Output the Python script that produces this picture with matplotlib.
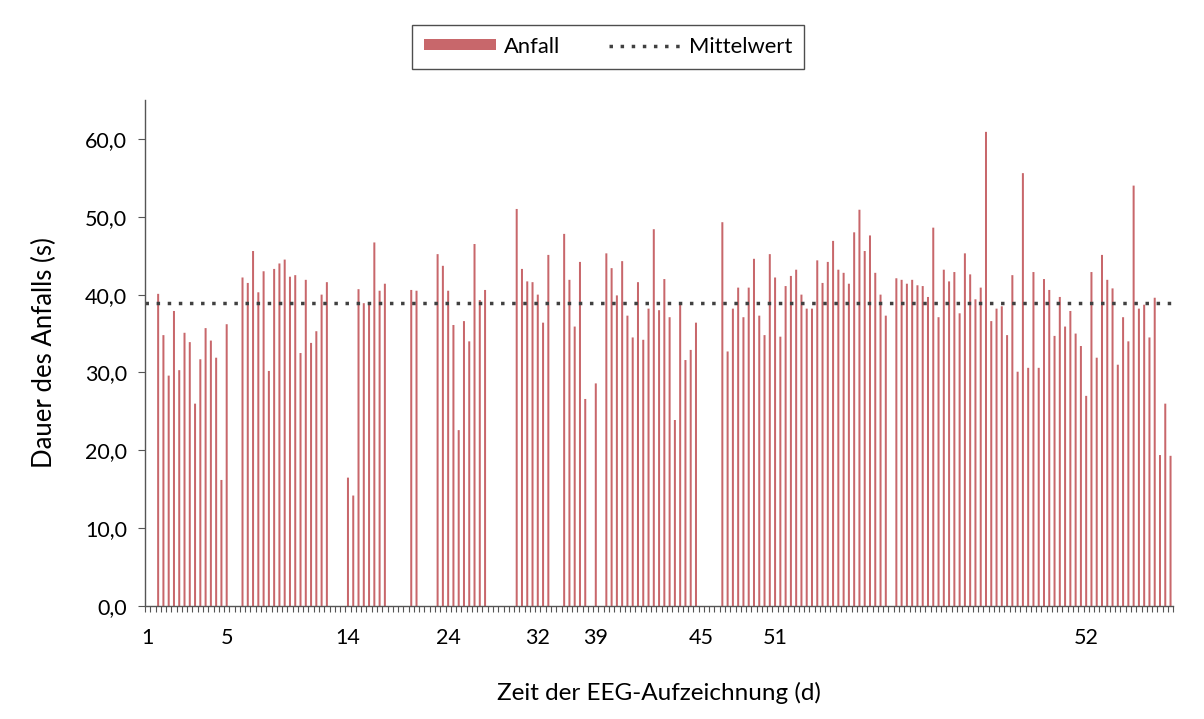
import numpy as np
import matplotlib
matplotlib.use("Agg")
import matplotlib.pyplot as plt
from matplotlib.patches import Patch
from matplotlib.lines import Line2D

plt.rcParams['font.family'] = ['Lato', 'DejaVu Sans']

# Dauer jedes Anfalls (s); nan = leere Kategorie
nan = np.nan
dauer = [
    nan, nan,
    40.1, 34.8, 29.6, 37.9, 30.3, 35.1, 33.9, 26.0, 31.7, 35.7, 34.1, 31.9, 16.2, 36.2,
    nan, nan,
    42.2, 41.5, 45.6, 40.3, 43.0, 30.2, 43.3, 44.0, 44.5, 42.3, 42.5, 32.5, 41.9, 33.8, 35.3, 40.0, 41.6,
    nan, nan, nan,
    16.5, 14.2, 40.7, 38.9, 38.9, 46.7, 40.5, 41.4,
    nan, nan, nan, nan,
    40.6, 40.5,
    nan, nan, nan,
    45.2, 43.7, 40.5, 36.1, 22.6, 36.6, 34.0, 46.5, 39.3, 40.6,
    nan, nan, nan, nan, nan,
    51.0, 43.3, 41.7, 41.6, 40.0, 36.4, 45.1,
    nan, nan,
    47.8, 41.9, 35.9, 44.2, 26.6,
    nan,
    28.6,
    nan,
    45.3, 43.4, 39.9, 44.3, 37.3, 34.5, 41.6, 34.2, 38.2, 48.4, 38.0, 42.0, 37.1, 23.9,
    38.9, 31.6, 32.9, 36.4,
    nan, nan, nan, nan,
    49.3, 32.7, 38.2, 40.9, 37.1, 40.9, 44.6, 37.3, 34.8, 45.2, 42.2, 34.6, 41.1, 42.4,
    43.2, 40.0, 38.2, 38.2, 44.4, 41.5, 44.2, 46.9, 43.2, 42.8, 41.4, 48.0, 50.9, 45.6,
    47.6, 42.8, 40.0, 37.3,
    nan,
    42.1, 41.9, 41.4, 41.9, 41.2, 41.1, 39.7, 48.6, 37.1, 43.2, 41.7, 42.9, 37.6, 45.3,
    42.6, 39.4, 40.9, 60.9, 36.6, 38.2, 38.5, 34.8, 42.5, 30.1, 55.6, 30.6, 42.9, 30.6,
    42.0, 40.6, 34.7, 39.7, 35.9, 37.9, 35.0, 33.4, 27.0, 42.9, 31.9, 45.1, 41.9, 40.8,
    31.0, 37.1, 34.0, 54.0, 38.2, 38.7, 34.5, 39.6, 19.4, 26.0, 19.3,
]
mittelwert = 38.9

# Beschriftete Kategorien (Tag der Aufzeichnung)
tag_pos = [0, 15, 38, 57, 74, 85, 105, 119, 178]
tag_labels = ["1", "5", "14", "24", "32", "39", "45", "51", "52"]

bar_color = "#C8676B"
dots = (0, (1, 2.2))
n = len(dauer)
x = np.arange(n)

fig = plt.figure(figsize=(12.04, 7.19), dpi=100)
ax = fig.add_axes([0.1204, 0.157, 0.854, 0.704])

bars = ax.bar(x, dauer, width=0.38, color=bar_color, linewidth=0)
for b in bars:
    b.set_snap(False)
ax.axhline(mittelwert, color="#404040", linestyle=dots, linewidth=2.5)

ax.set_xlim(-0.5, n - 0.5)
ax.set_ylim(0, 65)
ax.set_yticks(np.arange(0, 61, 10))
ax.set_yticklabels([f"{v:.1f}".replace(".", ",") for v in np.arange(0, 61, 10)])

ax.set_xticks(tag_pos)
ax.set_xticklabels(tag_labels)
ax.set_xticks(np.arange(-0.5, n, 1), minor=True)
ax.tick_params(axis="x", which="major", length=0, pad=16, labelsize=15.5)
ax.tick_params(axis="x", which="minor", length=4, width=0.8, color="#555555")
ax.tick_params(axis="y", length=5, width=0.8, color="#555555", labelsize=15.5, pad=8)

for side in ("top", "right"):
    ax.spines[side].set_visible(False)
for side in ("left", "bottom"):
    ax.spines[side].set_color("#555555")
    ax.spines[side].set_linewidth(1.0)

ax.set_xlabel("Zeit der EEG-Aufzeichnung (d)", fontsize=17.5, labelpad=24)
ax.set_ylabel("Dauer des Anfalls (s)", fontsize=18.5, labelpad=20)

handles = [
    Patch(facecolor=bar_color, edgecolor="none"),
    Line2D([], [], color="#404040", linestyle=dots, linewidth=2.5),
]
leg = fig.legend(handles, ["Anfall", "Mittelwert"], loc="center",
                 bbox_to_anchor=(0.505, 0.935), ncol=2, fontsize=15.8,
                 frameon=True, fancybox=False, handlelength=3.3,
                 handleheight=0.4, columnspacing=2.2, borderpad=0.55,
                 handletextpad=0.35, borderaxespad=0)
leg.get_frame().set_edgecolor("#222222")
leg.get_frame().set_linewidth(1.0)

fig.savefig("out.png", dpi=100)
